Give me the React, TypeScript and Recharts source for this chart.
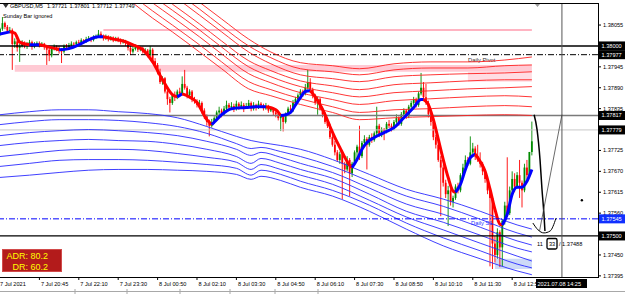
import React from 'react';
import {
  ComposedChart, Bar, Line, XAxis, YAxis, ReferenceLine, ReferenceArea, ReferenceDot,
} from 'recharts';

// all prices below are in points above 1.37000 (1 point = 0.00001)
const BASE = 1.37;
const toPrice = (p: number) => Math.round((BASE + p / 100000) * 100000) / 100000;

const FONT = 'Liberation Sans, Arial, sans-serif';

const opens = [
  1030, 1045, 1060, 1050, 1040, 1042, 1005, 1012, 995, 1000,
  1008, 1000, 1004, 1010, 998, 1005, 1008, 1002, 1006, 999,
  990, 975, 992, 998, 995, 990, 985, 1000, 996, 1002,
  1006, 1004, 1010, 1008, 1015, 1012, 1018, 1020, 1016, 1022,
  1025, 1032, 1026, 1020, 1024, 1018, 1022, 1015, 1020, 1016,
  1010, 1014, 1008, 995, 985, 992, 998, 990, 995, 985,
  988, 975, 990, 960, 950, 930, 905, 915, 880, 860,
  850, 870, 865, 880, 875, 900, 890, 870, 880, 860,
  855, 845, 850, 830, 815, 800, 790, 800, 810, 825,
  830, 820, 835, 845, 838, 842, 835, 848, 840, 845,
  838, 842, 850, 835, 845, 838, 848, 844, 836, 842,
  830, 835, 825, 820, 810, 815, 800, 820, 835, 830,
  850, 860, 870, 880, 875, 890, 905, 885, 870, 850,
  860, 835, 820, 800, 790, 760, 740, 720, 700, 715,
  690, 675, 700, 665, 690, 720, 735, 710, 745, 755,
  740, 760, 752, 770, 790, 765, 780, 775, 795, 790,
  782, 800, 810, 795, 820, 830, 815, 840, 850, 860,
  845, 875, 890, 865, 850, 820, 800, 760, 740, 700,
  680, 640, 610, 620, 590, 600, 630, 620, 660, 680,
  700, 690, 720, 730, 710, 700, 690, 670, 650, 620,
  600, 480, 450, 510, 470, 540, 580, 560, 620, 650,
  630, 660, 640, 620, 680, 660, 721,
];
const highs = [
  1048, 1076, 1064, 1055, 1050, 1046, 1020, 1016, 1006, 1015,
  1012, 1010, 1016, 1014, 1010, 1012, 1012, 1010, 1008, 1002,
  995, 996, 1004, 1002, 1000, 994, 1004, 1005, 1008, 1012,
  1010, 1014, 1016, 1020, 1018, 1024, 1026, 1024, 1028, 1030,
  1042, 1038, 1030, 1030, 1028, 1026, 1025, 1024, 1024, 1020,
  1018, 1016, 1010, 1000, 998, 1004, 1002, 1000, 998, 994,
  992, 1000, 994, 968, 955, 940, 920, 918, 888, 866,
  875, 880, 885, 890, 920, 937, 895, 886, 884, 866,
  860, 858, 854, 836, 820, 806, 808, 815, 830, 840,
  835, 842, 856, 850, 852, 848, 856, 852, 854, 850,
  850, 858, 854, 852, 848, 856, 852, 848, 850, 845,
  840, 838, 830, 824, 820, 818, 825, 840, 845, 858,
  866, 875, 886, 885, 900, 937, 915, 890, 874, 866,
  864, 840, 826, 808, 795, 768, 750, 726, 722, 720,
  695, 710, 705, 695, 725, 740, 790, 750, 765, 760,
  766, 770, 775, 840, 795, 786, 784, 800, 805, 796,
  805, 820, 815, 826, 836, 834, 845, 856, 866, 864,
  880, 929, 905, 900, 856, 828, 806, 766, 748, 710,
  688, 648, 632, 626, 606, 636, 640, 665, 690, 712,
  708, 762, 745, 736, 740, 720, 695, 676, 656, 626,
  606, 500, 520, 515, 545, 590, 707, 630, 670, 665,
  668, 700, 646, 690, 700, 721, 801,
];
const lows = [
  1026, 1040, 1044, 1036, 1034, 937, 995, 985, 958, 996,
  994, 992, 1000, 990, 994, 1000, 996, 998, 990, 950,
  960, 970, 988, 986, 980, 955, 980, 990, 992, 998,
  996, 1000, 1002, 1004, 1006, 1008, 1014, 1010, 1012, 1018,
  1022, 1020, 1014, 1016, 1012, 1014, 1010, 1012, 1010, 1004,
  1006, 1000, 988, 976, 980, 988, 984, 986, 980, 978,
  970, 972, 955, 945, 925, 900, 898, 875, 845, 825,
  845, 855, 860, 868, 870, 885, 862, 864, 852, 848,
  838, 840, 822, 808, 790, 762, 785, 795, 805, 818,
  812, 816, 830, 830, 834, 826, 830, 832, 836, 826,
  834, 838, 828, 830, 830, 834, 838, 830, 832, 824,
  826, 818, 812, 804, 776, 775, 796, 816, 822, 826,
  845, 852, 862, 866, 870, 885, 878, 862, 845, 819,
  830, 812, 795, 784, 755, 735, 712, 695, 690, 597,
  665, 670, 605, 655, 685, 705, 700, 705, 740, 675,
  735, 745, 748, 765, 760, 760, 752, 770, 784, 775,
  778, 795, 790, 790, 815, 808, 810, 835, 845, 838,
  840, 870, 855, 845, 812, 790, 752, 730, 695, 552,
  630, 600, 526, 580, 575, 595, 612, 615, 655, 676,
  684, 686, 715, 700, 695, 680, 660, 640, 610, 420,
  413, 430, 440, 418, 420, 530, 550, 555, 610, 615,
  625, 600, 575, 615, 650, 655, 712,
];
const closes = [
  1045, 1060, 1050, 1040, 1042, 1005, 1012, 995, 1000, 1008,
  1000, 1004, 1010, 998, 1005, 1008, 1002, 1006, 999, 990,
  975, 992, 998, 995, 990, 985, 1000, 996, 1002, 1006,
  1004, 1010, 1008, 1015, 1012, 1018, 1020, 1016, 1022, 1025,
  1032, 1026, 1020, 1024, 1018, 1022, 1015, 1020, 1016, 1010,
  1014, 1008, 995, 985, 992, 998, 990, 995, 985, 988,
  975, 990, 960, 950, 930, 905, 915, 880, 860, 850,
  870, 865, 880, 875, 900, 890, 870, 880, 860, 855,
  845, 850, 830, 815, 800, 790, 800, 810, 825, 830,
  820, 835, 845, 838, 842, 835, 848, 840, 845, 838,
  842, 850, 835, 845, 838, 848, 844, 836, 842, 830,
  835, 825, 820, 810, 815, 800, 820, 835, 830, 850,
  860, 870, 880, 875, 890, 905, 885, 870, 850, 860,
  835, 820, 800, 790, 760, 740, 720, 700, 715, 690,
  675, 700, 665, 690, 720, 735, 710, 745, 755, 740,
  760, 752, 770, 790, 765, 780, 775, 795, 790, 782,
  800, 810, 795, 820, 830, 815, 840, 850, 860, 845,
  875, 890, 865, 850, 820, 800, 760, 740, 700, 680,
  640, 610, 620, 590, 600, 630, 620, 660, 680, 700,
  690, 720, 730, 710, 700, 690, 670, 650, 620, 600,
  480, 450, 510, 470, 540, 580, 560, 620, 650, 630,
  660, 640, 620, 680, 660, 721, 749,
];

// time axis: bar index of each label
const timeTicks = [0, 16, 32, 48, 64, 80, 96, 112, 128, 144, 160, 176, 192, 208];
const timeLabels = [
  '7 Jul 2021', '7 Jul 20:45', '7 Jul 22:10', '7 Jul 23:30', '8 Jul 00:50', '8 Jul 02:10', '8 Jul 03:30',
  '8 Jul 04:50', '8 Jul 06:10', '8 Jul 07:30', '8 Jul 08:50', '8 Jul 10:10', '8 Jul 11:30', '8 Jul 12:50',
];

// trend line (red when falling, blue when rising)
const maIdx = [
  0, 4, 6, 8, 12, 16, 20, 24, 28, 32, 36, 40, 42, 46, 50, 54, 58, 62, 66, 70, 72, 74, 76, 80, 84, 86, 88, 90,
  94, 100, 104, 108, 112, 114, 116, 118, 120, 122, 124, 126, 128, 130, 132, 134, 136, 138, 140, 142, 143, 145,
  147, 149, 152, 156, 160, 164, 168, 171, 172, 174, 176, 178, 180, 182, 184, 185, 187, 189, 191, 193, 195, 197,
  199, 201, 203, 204, 206, 208, 210, 212, 214, 216,
];
const maPts = [
  1031, 1037, 1034, 1010, 1003, 1003, 997, 990, 993, 1003, 1016, 1024, 1024, 1018, 1013, 1003, 990, 958, 911,
  872, 866, 874, 869, 851, 806, 793, 806, 819, 835, 838, 840, 840, 832, 817, 819, 825, 845, 864, 880, 882,
  866, 845, 819, 788, 759, 733, 707, 686, 680, 701, 728, 746, 759, 772, 785, 811, 838, 859, 859, 845, 806,
  754, 701, 654, 618, 615, 636, 675, 706, 715, 696, 670, 623, 570, 531, 529, 557, 610, 628, 628, 644, 675,
];

// upper (red) envelope lines
const redBandIdx = [54, 62, 70, 81, 90, 101, 110, 122, 135, 146, 160, 175, 190, 205, 216];
const redBands = [
  [1244, 1204, 1168, 1115, 1071, 1018, 984, 956, 948, 940, 953, 958, 958, 963, 971],
  [1225, 1186, 1149, 1097, 1052, 1000, 969, 940, 932, 924, 937, 942, 942, 948, 950],
  [1210, 1170, 1134, 1081, 1037, 984, 953, 924, 914, 906, 919, 924, 927, 929, 932],
  [1186, 1147, 1110, 1058, 1013, 961, 935, 908, 895, 885, 898, 903, 908, 911, 911],
  [1170, 1131, 1094, 1042, 997, 945, 919, 893, 877, 866, 877, 882, 887, 890, 893],
  [1152, 1113, 1076, 1024, 979, 927, 903, 877, 859, 846, 856, 861, 866, 869, 866],
  [1131, 1092, 1055, 1003, 958, 906, 885, 861, 840, 825, 832, 835, 840, 843, 840],
  [1113, 1073, 1037, 984, 940, 887, 869, 846, 825, 806, 811, 814, 817, 819, 817],
];

// lower (blue) envelope lines
const blueBandIdx = [0, 12, 24, 36, 48, 60, 72, 84, 96, 102, 106, 114, 122, 135, 150, 165, 180, 195, 210, 216];
const blueBands = [
  [819, 827, 832, 832, 827, 822, 811, 788, 762, 751, 746, 738, 728, 701, 662, 623, 597, 565, 529, 518],
  [793, 801, 806, 806, 804, 798, 788, 770, 743, 730, 733, 722, 709, 683, 644, 605, 578, 544, 508, 497],
  [764, 772, 777, 780, 777, 772, 764, 749, 728, 712, 720, 707, 691, 667, 626, 584, 557, 523, 487, 476],
  [738, 746, 751, 754, 751, 749, 741, 728, 709, 691, 704, 691, 675, 652, 610, 565, 536, 502, 468, 458],
  [709, 717, 725, 728, 728, 725, 717, 707, 694, 675, 688, 675, 660, 636, 594, 550, 516, 481, 447, 434],
  [683, 691, 699, 701, 701, 699, 694, 688, 678, 660, 673, 662, 644, 620, 581, 534, 495, 461, 426, 416],
  [654, 660, 667, 673, 675, 675, 673, 670, 662, 649, 657, 646, 628, 605, 565, 518, 474, 440, 408, 398],
];

// hand drawn projection near the last bar
const arcIdx = [216.9, 218.1, 219.3, 220.1, 220.9, 221.3];
const arcPts = [819, 780, 701, 623, 557, 513];
const rayIdx = [228.2, 219.1];
const rayPts = [819, 513];
const cupIdx = [216.4, 218.5, 220.9, 223.4, 225.8];
const cupPts = [534, 516, 508, 513, 547];

const priceTicks = [1.38055, 1.37945, 1.3789, 1.37835, 1.37725, 1.3767, 1.37615, 1.3756, 1.3745, 1.37395];
const markedPrices = [
  { price: 1.38, bg: '#000000' },
  { price: 1.37977, bg: '#000000' },
  { price: 1.37817, bg: '#000000' },
  { price: 1.37779, bg: '#000000' },
  { price: 1.37545, bg: '#1030ff' },
  { price: 1.375, bg: '#000000' },
];

const candles = closes.map((c, i) => ({
  i,
  open: toPrice(opens[i]),
  high: toPrice(highs[i]),
  low: toPrice(lows[i]),
  close: toPrice(c),
  range: [toPrice(lows[i]), toPrice(highs[i])],
}));

const maRuns: { color: string; pts: { i: number; v: number }[] }[] = [];
for (let k = 0; k < maIdx.length - 1; k++) {
  const color = maPts[k + 1] >= maPts[k] ? '#0000ff' : '#ff0000';
  const last = maRuns[maRuns.length - 1];
  if (!last || last.color !== color) {
    maRuns.push({ color, pts: [{ i: maIdx[k], v: toPrice(maPts[k]) }] });
  }
  maRuns[maRuns.length - 1].pts.push({ i: maIdx[k + 1], v: toPrice(maPts[k + 1]) });
}

const toSeries = (idx: number[], pts: number[]) => idx.map((i, k) => ({ i, v: toPrice(pts[k]) }));

const Candle = (props: any) => {
  const { x, y, width, height } = props;
  const d = props.payload || props;
  if (d.high == null) return null;
  const top = Math.min(y, y + height);
  const h = Math.abs(height);
  const k = d.high > d.low ? h / (d.high - d.low) : 0;
  const cx = x + width / 2;
  const yo = top + (d.high - d.open) * k;
  const yc = top + (d.high - d.close) * k;
  const col = d.close >= d.open ? '#008a00' : '#ff0000';
  return (
    <g>
      <line x1={cx} x2={cx} y1={top} y2={top + h} stroke={col} strokeWidth={0.9} />
      <rect x={cx - 0.9} y={Math.min(yo, yc)} width={1.8} height={Math.max(0.8, Math.abs(yo - yc))} fill={col} />
    </g>
  );
};

const TimeTick = (props: any) => {
  const { x, payload } = props;
  const n = timeTicks.indexOf(payload.value);
  return (
    <g>
      {n > 0 && <line x1={x} x2={x} y1={277} y2={280} stroke="#000" />}
      <text x={n === 0 ? 0 : x + 1.5} y={285.5} fontSize={5.6} fontFamily={FONT} fill="#000">
        {timeLabels[n]}
      </text>
    </g>
  );
};

const PriceTick = (props: any) => {
  const { y, payload } = props;
  const v = payload.value;
  const m = markedPrices.find((p) => Math.abs(p.price - v) < 1e-7);
  if (m) {
    return (
      <g>
        <rect x={599} y={y - 4.5} width={26} height={9} fill={m.bg} />
        <text x={601.5} y={y + 2} fontSize={5.6} fontFamily={FONT} fill="#fff">{v.toFixed(5)}</text>
      </g>
    );
  }
  return (
    <g>
      <line x1={598} x2={601} y1={y} y2={y} stroke="#000" />
      <text x={603} y={y + 2} fontSize={5.6} fontFamily={FONT} fill="#000">{v.toFixed(5)}</text>
    </g>
  );
};

const last = candles[candles.length - 1];

export default function App() {
  return (
    <div style={{ position: 'absolute', left: 0, top: 0, width: 625, height: 294, background: '#fff' }}>
      <ComposedChart width={625} height={294} data={candles} margin={{ top: 3, right: 0, bottom: 0, left: 0 }}>
        <XAxis
          dataKey="i"
          type="number"
          domain={[0, 242.85]}
          allowDataOverflow
          ticks={timeTicks}
          interval={0}
          tick={TimeTick}
          tickLine={false}
          axisLine={false}
          height={17}
        />
        <YAxis
          orientation="right"
          type="number"
          domain={[1.37392, 1.38113]}
          allowDataOverflow
          ticks={[...priceTicks, ...markedPrices.map((m) => m.price)]}
          interval={0}
          tick={PriceTick}
          tickLine={false}
          axisLine={false}
          width={27}
        />
        <ReferenceArea x1={6} x2={216} y1={toPrice(932)} y2={toPrice(950)} fill="#ffc4cf" fillOpacity={0.9} stroke="none" />
        <ReferenceArea x1={190} x2={216} y1={toPrice(906)} y2={toPrice(932)} fill="#ffd4dc" fillOpacity={0.8} stroke="none" />
        <ReferenceArea x1={201} x2={216} y1={toPrice(413)} y2={toPrice(440)} fill="#c8d6f6" fillOpacity={0.9} stroke="none" />
        <ReferenceLine
          segment={[{ x: 42, y: toPrice(1042) }, { x: 216, y: toPrice(1042) }]}
          stroke="#ffb4c2"
          strokeWidth={2}
        />
        <ReferenceLine y={1.38} stroke="#000" strokeWidth={1.5} />
        <ReferenceLine
          y={1.37977}
          stroke="#000"
          strokeDasharray="6 2 1 2"
          label={(p: any) => (
            <text x={468} y={p.viewBox.y + 7} fontSize={5.8} fontFamily={FONT} fill="#333">Daily Pivot</text>
          )}
        />
        <ReferenceLine y={1.37817} stroke="#7a7a7a" strokeWidth={1.6} />
        <ReferenceLine y={1.37779} stroke="#c8c8c8" strokeWidth={1} />
        {blueBands.map((b, n) => (
          <Line
            key={'b' + n}
            data={toSeries(blueBandIdx, b)}
            dataKey="v"
            type="monotone"
            stroke="#2a2aff"
            strokeWidth={0.9}
            dot={false}
            activeDot={false}
            isAnimationActive={false}
          />
        ))}
        {redBands.map((b, n) => (
          <Line
            key={'r' + n}
            data={toSeries(redBandIdx, b)}
            dataKey="v"
            type="monotone"
            stroke="#ff2020"
            strokeWidth={0.9}
            dot={false}
            activeDot={false}
            isAnimationActive={false}
          />
        ))}
        <Bar dataKey="range" shape={Candle} barSize={2} isAnimationActive={false} />
        {maRuns.map((r, n) => (
          <Line
            key={'m' + n}
            data={r.pts}
            dataKey="v"
            type="monotone"
            stroke={r.color}
            strokeWidth={3}
            dot={false}
            activeDot={false}
            isAnimationActive={false}
          />
        ))}
        <ReferenceLine
          y={1.37545}
          stroke="#0000ff"
          strokeDasharray="6 2 1 2"
          label={(p: any) => (
            <text x={471} y={p.viewBox.y + 6.5} fontSize={5.8} fontFamily={FONT} fill="#2030ff">Daily S1</text>
          )}
        />
        <ReferenceLine y={1.375} stroke="#000" strokeWidth={1.2} />
        <ReferenceLine x={228.2} stroke="#555" strokeWidth={1} />
        <Line data={toSeries(arcIdx, arcPts)} dataKey="v" type="monotone" stroke="#000" strokeWidth={1.5} dot={false} activeDot={false} isAnimationActive={false} />
        <Line data={toSeries(rayIdx, rayPts)} dataKey="v" type="linear" stroke="#444" strokeWidth={0.8} dot={false} activeDot={false} isAnimationActive={false} />
        <Line data={toSeries(cupIdx, cupPts)} dataKey="v" type="monotone" stroke="#000" strokeWidth={1} dot={false} activeDot={false} isAnimationActive={false} />
        <ReferenceDot x={236.3} y={toPrice(594)} r={1.2} fill="#000" stroke="none" />
      </ComposedChart>

      <div
        style={{
          position: 'absolute', left: -1, top: 3, width: 600, height: 275,
          border: '1px solid #000', boxSizing: 'border-box', pointerEvents: 'none',
        }}
      />

      <svg width={625} height={294} style={{ position: 'absolute', left: 0, top: 0, pointerEvents: 'none' }}>
        <g fontFamily={FONT} fontSize={5.6} fill="#000">
          <path d="M3 4 L8.5 4 L5.75 8 Z" fill="#333" />
          <text x={10} y={8.2}>GBPUSD,M5</text>
          {[last.open, last.high, last.low, last.close].map((v, n) => (
            <text key={n} x={47 + n * 22.5} y={8.2}>{v.toFixed(5)}</text>
          ))}
          <text x={3} y={17.8}>Sunday Bar ignored</text>
          <path d="M535 4 L540 4 L537.5 7 Z" fill="#999" />

          <text x={537} y={246}>11</text>
          <rect x={547} y={238.5} width={10} height={10.5} rx={1.5} fill="#fff" stroke="#000" strokeWidth={1.3} />
          <text x={552} y={246} textAnchor="middle">33</text>
          <text x={559} y={246}>/ 1.37488</text>

          <rect x={536} y={279} width={51} height={9} fill="#000" />
          <text x={537.5} y={285.8} fill="#fff">2021.07.08 14:25</text>

          <line x1={0} x2={625} y1={291.5} y2={291.5} stroke="#a8a8a8" />
          {[75, 127, 180, 230, 275, 318].map((x) => (
            <line key={x} x1={x} x2={x} y1={289} y2={294} stroke="#a8a8a8" />
          ))}
        </g>
        <rect x={2.5} y={249.5} width={59} height={22} fill="#b31b1b" stroke="#d24a4a" />
        <g fontFamily={FONT} fontSize={9} fill="#ffff00" textAnchor="end">
          <text x={48} y={259}>ADR: 80.2</text>
          <text x={48} y={270}>DR: 60.2</text>
        </g>
      </svg>
    </div>
  );
}
